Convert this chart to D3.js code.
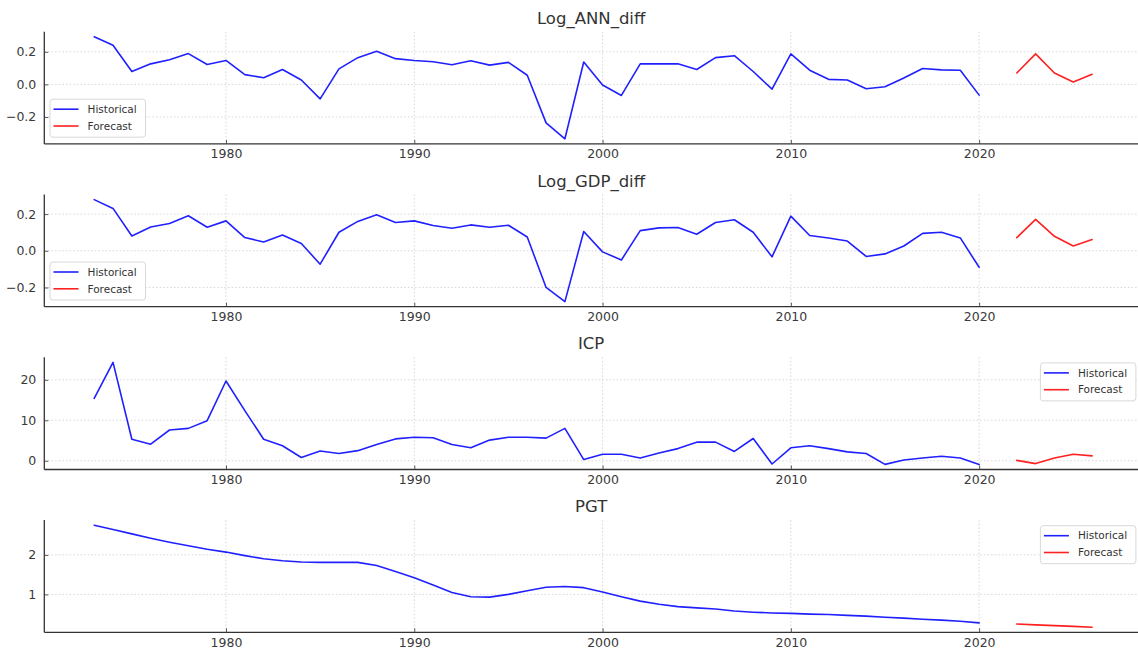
<!DOCTYPE html>
<html>
<head>
<meta charset="utf-8">
<script src="https://cdn.jsdelivr.net/npm/d3@7"></script>
<style>
  html, body { margin: 0; padding: 0; background: #fff; }
  svg { display: block; font-family: "DejaVu Sans", sans-serif; }
</style>
</head>
<body>
<svg id="chart" width="1138" height="650"></svg>
<script>
// ---------- DATA ----------
const histYears = [1973,1974,1975,1976,1977,1978,1979,1980,1981,1982,1983,1984,1985,1986,1987,1988,1989,1990,1991,1992,1993,1994,1995,1996,1997,1998,1999,
  2000,2001,2002,2003,2004,2005,2006,2007,2008,2009,2010,2011,2012,2013,2014,2015,2016,2017,2018,2019,2020];
const fcYears = [2022,2023,2024,2025,2026];
const panelTitles = ["Log_ANN_diff", "Log_GDP_diff", "ICP", "PGT"];
const xTickValues = [1980, 1990, 2000, 2010, 2020];

const annHist = [0.292,0.240,0.079,0.126,0.151,0.189,0.122,0.147,0.060,0.041,0.091,0.027,-0.089,0.095,0.164,0.203,0.158,0.147,0.139,0.120,0.145,0.118,0.135,0.056,-0.236,-0.334,0.137,
  -0.004,-0.068,0.126,0.126,0.126,0.091,0.164,0.176,0.079,-0.029,0.187,0.087,0.031,0.027,-0.027,-0.015,0.039,0.097,0.089,0.087,-0.066];
const annFc = [0.070,0.187,0.070,0.015,0.062];

const gdpHist = [0.279,0.231,0.081,0.130,0.149,0.191,0.128,0.163,0.072,0.048,0.086,0.040,-0.073,0.101,0.160,0.196,0.154,0.163,0.138,0.123,0.141,0.128,0.139,0.075,-0.200,-0.277,0.105,
  -0.006,-0.050,0.110,0.125,0.127,0.090,0.154,0.169,0.101,-0.033,0.189,0.083,0.070,0.053,-0.031,-0.017,0.026,0.095,0.101,0.070,-0.090];
const gdpFc = [0.072,0.171,0.079,0.026,0.061];

const icpHist = [15.4,24.3,5.3,4.1,7.6,8.0,9.9,19.7,12.4,5.3,3.7,0.8,2.4,1.8,2.5,4.0,5.4,5.8,5.7,4.0,3.2,5.1,5.8,5.8,5.6,8.0,0.3,
  1.6,1.6,0.7,1.9,3.0,4.6,4.6,2.3,5.5,-0.8,3.2,3.7,3.0,2.2,1.8,-0.9,0.2,0.7,1.1,0.7,-0.9];
const icpFc = [0.1,-0.7,0.7,1.6,1.2];

const pgtHist = [2.75,2.64,2.53,2.42,2.32,2.23,2.14,2.07,1.98,1.90,1.85,1.82,1.81,1.81,1.81,1.73,1.58,1.42,1.24,1.05,0.94,0.93,1.00,1.09,1.18,1.20,1.17,
  1.06,0.94,0.83,0.75,0.69,0.66,0.63,0.58,0.55,0.53,0.52,0.50,0.49,0.47,0.45,0.42,0.40,0.37,0.35,0.32,0.28];
const pgtFc = [0.25,0.23,0.21,0.19,0.17];

const yTicks1 = [-0.2, 0.0, 0.2];
const yTicks2 = [-0.2, 0.0, 0.2];
const yTicks3 = [0, 10, 20];
const yTicks4 = [1, 2];
const legendLabels = ["Historical", "Forecast"];

// ---------- LAYOUT ----------
const panels = [
  {title: panelTitles[0], hist: annHist, fc: annFc, ticks: yTicks1, fmt: d3.format(".1f"), legend: "lowerleft"},
  {title: panelTitles[1], hist: gdpHist, fc: gdpFc, ticks: yTicks2, fmt: d3.format(".1f"), legend: "lowerleft"},
  {title: panelTitles[2], hist: icpHist, fc: icpFc, ticks: yTicks3, fmt: d3.format("d"), legend: "upperright"},
  {title: panelTitles[3], hist: pgtHist, fc: pgtFc, ticks: yTicks4, fmt: d3.format("d"), legend: "upperright"}
];
const tops = [31.7, 194.5, 357.3, 520.1];
const ph = 112.2;
const left = 44.3, right = 1142;

const svg = d3.select("#chart");
const allYears = histYears.concat(fcYears);
const xMin = d3.min(allYears), xMax = d3.max(allYears);
const xPad = (xMax - xMin) * 0.05;
const x = d3.scaleLinear().domain([xMin - xPad, xMax + xPad]).range([left, right]);

panels.forEach((p, i) => {
  const top = tops[i], bottom = top + ph;
  const vals = p.hist.concat(p.fc);
  const vMin = d3.min(vals), vMax = d3.max(vals);
  const vPad = (vMax - vMin) * 0.05;
  const y = d3.scaleLinear().domain([vMin - vPad, vMax + vPad]).range([bottom, top]);

  const g = svg.append("g");

  // grid
  g.selectAll(".vg").data(xTickValues).enter().append("line")
    .attr("x1", d => x(d)).attr("x2", d => x(d))
    .attr("y1", top).attr("y2", bottom)
    .attr("stroke", "#cfcfcf").attr("stroke-width", 0.8).attr("stroke-dasharray", "1.6,2");
  g.selectAll(".hg").data(p.ticks).enter().append("line")
    .attr("x1", left).attr("x2", right)
    .attr("y1", d => y(d)).attr("y2", d => y(d))
    .attr("stroke", "#cfcfcf").attr("stroke-width", 0.8).attr("stroke-dasharray", "1.6,2");

  // axes
  const xAxis = d3.axisBottom(x).tickValues(xTickValues).tickFormat(d3.format("d"))
    .tickSizeInner(-4).tickSizeOuter(0).tickPadding(8);
  const gx = g.append("g").attr("transform", `translate(0,${bottom})`).call(xAxis);
  const yAxis = d3.axisLeft(y).tickValues(p.ticks).tickFormat(p.fmt)
    .tickSizeInner(-4).tickSizeOuter(0).tickPadding(8);
  const gy = g.append("g").attr("transform", `translate(${left},0)`).call(yAxis);
  [gx, gy].forEach(ax => {
    ax.select(".domain").attr("stroke", "#333").attr("stroke-width", 1.3);
    ax.selectAll(".tick line").attr("stroke", "#444").attr("stroke-width", 0.9);
    ax.selectAll(".tick text").attr("fill", "#3a3a3a")
      .style("font-family", "'DejaVu Sans', sans-serif").style("font-size", "12.5px");
  });
  gx.select(".domain").attr("d", `M${left},0H${right}`);
  gy.select(".domain").attr("d", `M0,${top}V${bottom}`);
  gx.selectAll(".tick text").attr("dy", "0.71em").attr("y", 5.5);

  // lines
  const line = d3.line().x(d => x(d[0])).y(d => y(d[1]));
  g.append("path").datum(histYears.map((yr, k) => [yr, p.hist[k]]))
    .attr("d", line).attr("fill", "none").attr("stroke", "#2020ff")
    .attr("stroke-width", 1.6).attr("stroke-linejoin", "round").attr("stroke-linecap", "round");
  g.append("path").datum(fcYears.map((yr, k) => [yr, p.fc[k]]))
    .attr("d", line).attr("fill", "none").attr("stroke", "#ff2020")
    .attr("stroke-width", 1.6).attr("stroke-linejoin", "round").attr("stroke-linecap", "round");

  // title
  g.append("text").attr("x", (left + right) / 2 - 2).attr("y", top - 8)
    .attr("text-anchor", "middle").attr("fill", "#333")
    .style("font-size", "16.5px").text(p.title);

  // legend
  const lw = 95.5, lh = 38;
  let lx, ly;
  if (p.legend === "lowerleft") { lx = left + 5.7; ly = bottom - 6.7 - lh; }
  else { lx = 1040.4; ly = top + 5.6; }
  const lg = g.append("g").attr("transform", `translate(${lx},${ly})`);
  lg.append("rect").attr("width", lw).attr("height", lh).attr("rx", 3)
    .attr("fill", "#fff").attr("fill-opacity", 0.85).attr("stroke", "#d8d8d8").attr("stroke-width", 1);
  const colors = ["#2020ff", "#ff2020"];
  legendLabels.forEach((lab, k) => {
    const yy = 10 + k * 16.8;
    lg.append("line").attr("x1", 3.5).attr("x2", 28.5).attr("y1", yy).attr("y2", yy)
      .attr("stroke", colors[k]).attr("stroke-width", 1.6);
    lg.append("text").attr("x", 37.5).attr("y", yy + 3.8).attr("fill", "#333")
      .style("font-size", "10.5px").text(lab);
  });
});
</script>
</body>
</html>
